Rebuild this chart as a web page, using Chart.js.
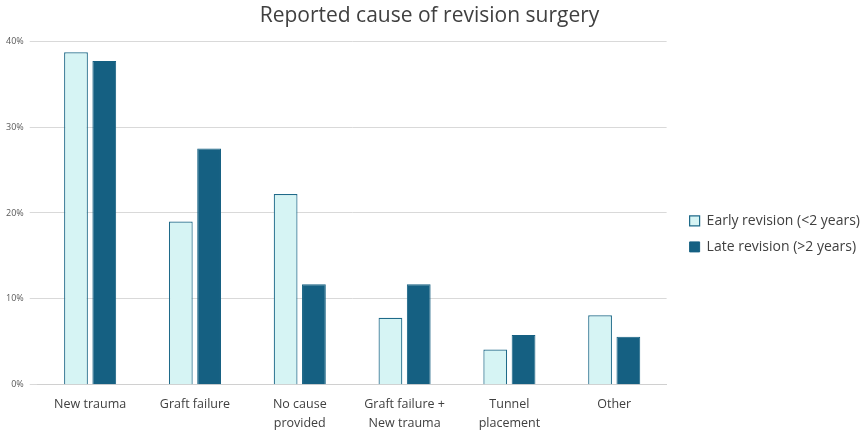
<!DOCTYPE html>
<html lang="en">
<head>
  <meta charset="UTF-8">
  <title>Reported cause of revision surgery</title>
  <script src="https://cdn.jsdelivr.net/npm/chart.js"></script>
  <style>
    * { box-sizing: border-box; }
    body { margin: 0; padding: 0; background: #fff; }
    .wrap { width: 863px; height: 435px; }
  </style>
</head>
<body>
<div class="wrap"><canvas id="chart"></canvas></div>
<script>
  const causes = [
    'New trauma',
    'Graft failure',
    ['No cause', 'provided'],
    ['Graft failure +', 'New trauma'],
    ['Tunnel', 'placement'],
    'Other'
  ];
  const earlyRevision = [38.7, 19.0, 22.2, 7.8, 4.1, 8.1];
  const lateRevision = [37.7, 27.5, 11.7, 11.7, 5.8, 5.6];
  const yTicks = [0, 10, 20, 30, 40];

  Chart.defaults.font.family = "'Open Sans', 'Liberation Sans', sans-serif";
  Chart.defaults.color = '#595959';

  // nudge the legend a little to the right of the plot, like the original
  const legendShift = {
    id: 'legendShift',
    afterLayout(chart) {
      chart.legend.left += 11;
      chart.legend.right += 11;
    }
  };

  new Chart(document.getElementById('chart'), {
    type: 'bar',
    data: {
      labels: causes,
      datasets: [
        {
          label: 'Early revision (<2 years)',
          data: earlyRevision,
          backgroundColor: '#d6f4f4',
          borderColor: '#1f6a89',
          borderWidth: 1.2
        },
        {
          label: 'Late revision (>2 years)',
          data: lateRevision,
          backgroundColor: '#156082',
          borderColor: '#156082',
          borderWidth: 1
        }
      ]
    },
    options: {
      responsive: true,
      maintainAspectRatio: false,
      animation: false,
      categoryPercentage: 0.54,
      barPercentage: 0.84,
      layout: { padding: { left: 0, right: 4, top: 0, bottom: 0 } },
      plugins: {
        title: {
          display: true,
          text: 'Reported cause of revision surgery',
          color: '#404040',
          font: { size: 21, weight: 'normal' },
          padding: { top: 3, bottom: 13 }
        },
        legend: {
          position: 'right',
          title: { display: true, text: ' ', font: { size: 14 }, padding: 8 },
          labels: {
            boxWidth: 10,
            boxHeight: 10,
            padding: 12,
            color: '#404040',
            font: { size: 14 }
          }
        },
        tooltip: { enabled: false }
      },
      scales: {
        x: {
          grid: { display: false },
          border: { color: '#d0d0d0' },
          ticks: {
            color: '#404040',
            font: { size: 12.5, lineHeight: 1.45 },
            maxRotation: 0,
            padding: 3
          }
        },
        y: {
          min: 0,
          max: 40,
          afterBuildTicks: axis => { axis.ticks = yTicks.map(v => ({ value: v })); },
          grid: { color: '#d9d9d9' },
          border: { display: false },
          ticks: {
            color: '#595959',
            font: { size: 9 },
            padding: 6,
            callback: v => v + '%'
          }
        }
      }
    },
    plugins: [legendShift]
  });
</script>
</body>
</html>
